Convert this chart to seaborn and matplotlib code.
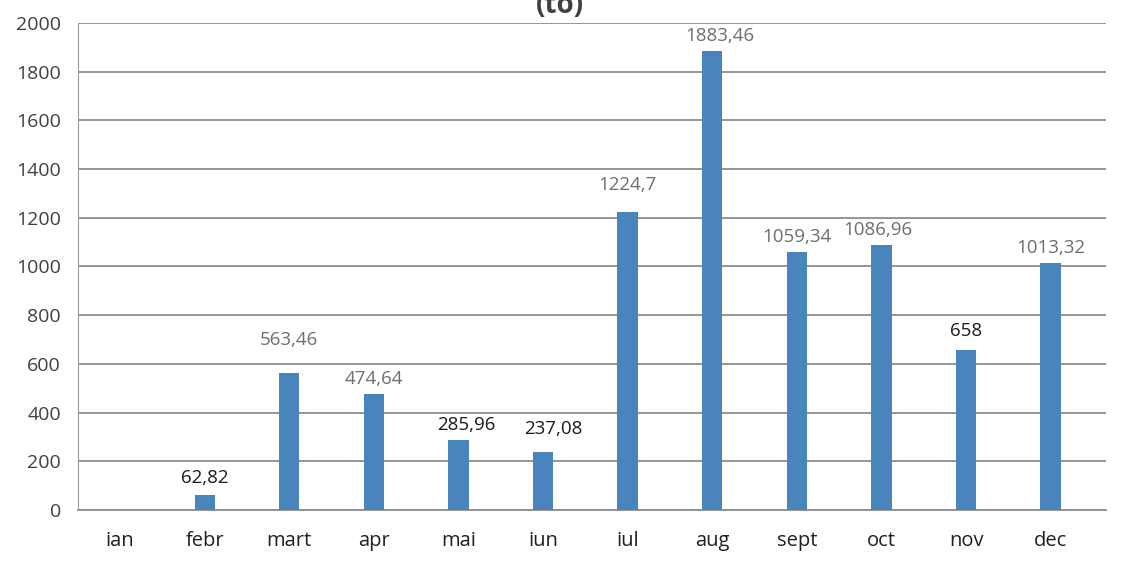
import numpy as np
import pandas as pd
import matplotlib
matplotlib.use('Agg')
import matplotlib.pyplot as plt
import seaborn as sns

# data
months = ['ian', 'febr', 'mart', 'apr', 'mai', 'iun', 'iul', 'aug', 'sept', 'oct', 'nov', 'dec']
values = [0, 62.82, 563.46, 474.64, 285.96, 237.08, 1224.7, 1883.46, 1059.34, 1086.96, 658, 1013.32]
value_labels = ['', '62,82', '563,46', '474,64', '285,96', '237,08', '1224,7', '1883,46',
                '1059,34', '1086,96', '658', '1013,32']
y_ticks = [0, 200, 400, 600, 800, 1000, 1200, 1400, 1600, 1800, 2000]

df = pd.DataFrame({'luna': months, 'cantitate': values})

sns.set_style('white')
plt.rcParams['font.family'] = ['Open Sans', 'DejaVu Sans']

fig = plt.figure(figsize=(11.27, 5.70), dpi=100)
ax = fig.add_axes([0.069, 0.105, 0.912, 0.855])

sns.barplot(data=df, x='luna', y='cantitate', color='#4a84bd', width=0.24,
            saturation=1, linewidth=0, ax=ax, zorder=3)

ax.set_ylim(0, 2000)
ax.set_xlim(-0.5, 11.65)
ax.set_yticks(y_ticks)
ax.set_yticklabels([str(t) for t in y_ticks], fontsize=14, color='#404040')
ax.tick_params(axis='x', labelsize=14.5, labelcolor='#202020', length=0, pad=15)
ax.tick_params(axis='y', length=0, pad=12)
ax.set_xlabel('')
ax.set_ylabel('')
ax.yaxis.grid(True, color='#8c8c8c', linewidth=1.3, zorder=0)

for side in ['top', 'right']:
    ax.spines[side].set_visible(False)
ax.spines['left'].set_color('#9a9a9a')
ax.spines['bottom'].set_color('#8c8c8c')
ax.spines['bottom'].set_linewidth(1.3)

# label colours / offsets (px) as they appear in the picture
dark = {'62,82', '285,96', '237,08', '658'}
offsets = {'563,46': (0, 20), '1224,7': (0, 14), '1086,96': (-4, 2), '1883,46': (8, 2),
           '474,64': (0, 2), '285,96': (8, 2), '237,08': (10, 10), '658': (0, 6),
           '1059,34': (0, 2), '1013,32': (0, 2), '62,82': (0, 4)}
for i, (v, lab) in enumerate(zip(values, value_labels)):
    if not lab:
        continue
    dx, dy = offsets.get(lab, (0, 4))
    ax.annotate(lab, (i, v), xytext=(dx, dy + 4), textcoords='offset pixels',
                ha='center', va='bottom', fontsize=13.5,
                color='#1a1a1a' if lab in dark else '#6e6e6e')

fig.text(0.497, 0.99, '(to)', ha='center', va='center', fontsize=20,
         fontweight='bold', color='#404040')

fig.savefig('out.png', dpi=100)
